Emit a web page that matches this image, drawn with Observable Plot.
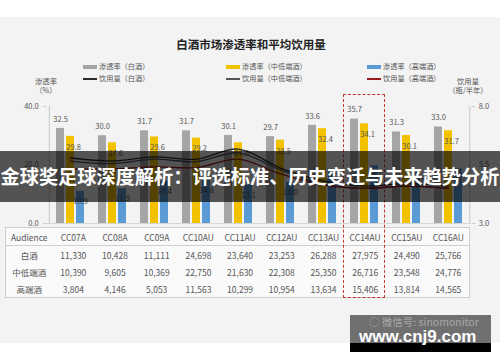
<!DOCTYPE html>
<html><head><meta charset="utf-8">
<script src="https://cdn.jsdelivr.net/npm/d3@7"></script>
<script src="https://cdn.jsdelivr.net/npm/@observablehq/plot@0.6"></script>
<style>
body{margin:0;background:#fff;font-family:"Noto Sans CJK SC","Noto Sans",sans-serif;}
#wrap{position:relative;width:500px;height:362px;overflow:hidden;}
#bg{position:absolute;left:0;top:17px;width:500px;height:326px;background:#f3f3f3;}
#chart{position:absolute;left:0;top:0;}
.abs{position:absolute;white-space:nowrap;}
#title{left:0;width:502px;top:36px;text-align:center;font-size:11.5px;font-weight:bold;color:#222;}
.leg{font-size:7.2px;color:#555;line-height:9px;}
.sw{position:absolute;}
.axt{font-size:7.3px;color:#555;text-align:center;line-height:9px;}
#tbl{position:absolute;left:5px;top:227px;width:465px;border-collapse:collapse;table-layout:fixed;background:#fafafa;border:1px solid #cfcfcf;font-size:8.5px;color:#555;}
#tbl td{text-align:center;height:17px;padding:0;}
#tbl tr:first-child td{border-bottom:1px solid #cfcfcf;}
#box{position:absolute;left:343px;top:94px;width:40px;height:202px;border:1.5px dashed #c0392b;}
#banner{position:absolute;left:0;top:151px;width:500px;height:51px;background:rgba(0,0,0,0.66);color:#fff;font-weight:bold;font-size:19.2px;line-height:51px;text-align:center;white-space:nowrap;overflow:visible;}
#wm1{position:absolute;left:350px;top:315px;width:141px;height:28px;background:#707070;}
#wm2{position:absolute;left:350px;top:343px;width:141px;height:9px;background:#000;}
#wmt1{position:absolute;left:369px;top:315px;font-size:10.5px;color:#a8a8a8;line-height:13px;white-space:nowrap;}
#wmt2{position:absolute;left:359px;top:327px;font-family:"Liberation Sans",Arial,sans-serif;font-weight:bold;font-size:17px;color:#fff;line-height:20px;}
</style></head><body>
<div id="wrap">
<div id="bg"></div>
<div id="chart"></div>
</div>
<script>
const categories = ["CC07A","CC08A","CC09A","CC10AU","CC11AU","CC12AU","CC13AU","CC14AU","CC15AU","CC16AU"];
const rateAll  = [32.5, 30.0, 31.7, 31.7, 30.1, 29.7, 33.6, 35.7, 31.3, 33.0];
const rateMid  = [29.8, 27.6, 29.6, 29.2, 27.6, 28.5, 32.4, 34.1, 30.1, 31.7];
const rateHigh = [10.9, 11.9, 14.4, 14.8, 13.1, 14.0, 17.4, 19.7, 17.7, 18.7];
const volAll  = [5.80, 5.67, 5.85, 5.75, 6.18, 5.37, 4.82, 4.60, 4.70, 4.60];
const volMid  = [5.67, 5.56, 5.75, 5.64, 6.02, 5.29, 4.69, 4.50, 4.60, 4.50];
const volHigh = [5.34, 5.33, 5.42, 5.39, 5.75, 5.12, 4.65, 4.50, 4.60, 4.50];
const audAll  = ["11,330","10,428","11,111","24,698","23,640","23,253","26,288","27,975","24,490","25,766"];
const audMid  = ["10,390","9,605","10,369","22,750","21,630","22,308","25,350","26,716","23,548","24,776"];
const audHigh = ["3,804","4,146","5,053","11,563","10,299","10,954","13,634","15,406","13,814","14,565"];
const leftTicks = [0, 20, 40];
const rightMin = 3.0, rightMax = 8.0;
const chartTitle = "白酒市场渗透率和平均饮用量";
const legendItems = [
  ["渗透率（白酒）","bar","#a5a5a5"],["渗透率（中低端酒）","bar","#f2c200"],["渗透率（高端酒）","bar","#5b9bd5"],
  ["饮用量（白酒）","line","#2b2b2b"],["饮用量（中低端酒）","line","#555555"],["饮用量（高端酒）","line","#9b1c1c"]
];
const rowNames = ["白酒","中低端酒","高端酒"];
const bannerText = "金球奖足球深度解析：评选标准、历史变迁与未来趋势分析";

const colGray = "#a5a5a5", colYellow = "#f2c200", colBlue = "#5b9bd5";
const rows = categories.map((c,i)=>({c, g:rateAll[i], m:rateMid[i], h:rateHigh[i]}));
const scaleR = (rightMax-rightMin)/40;
const toLeft = v => (v-rightMin)/scaleR;
const lineData = (arr) => categories.map((c,i)=>({c, v:arr[i]}));

const svg = Plot.plot({
  width:500, height:362,
  marginTop:106, marginBottom:139, marginLeft:46.25, marginRight:28.75,
  style:{background:"transparent", fontFamily:"'Noto Sans CJK SC','Noto Sans',sans-serif", fontSize:"7.5px", color:"#555"},
  x:{domain:categories, padding:0, axis:null},
  y:{domain:[0,40], axis:null},
  marks:[
    Plot.ruleX([categories[0]], {y1:0, y2:40, dx:-21.25, stroke:"#c8c8c8"}),
    Plot.ruleX([categories[categories.length-1]], {y1:0, y2:40, dx:21.25, stroke:"#c8c8c8"}),
    Plot.axisY({anchor:"left", ticks:leftTicks, tickFormat:d=>d.toFixed(1), tickSize:3, tickPadding:5, stroke:"#c8c8c8", fill:"#555"}),
    Plot.axisY({anchor:"right", ticks:leftTicks, tickFormat:d=>(rightMin+d*scaleR).toFixed(1), tickSize:3, tickPadding:4, stroke:"#c8c8c8", fill:"#555"}),
    Plot.barY(rows, {x:"c", y:"g", fill:colGray, insetLeft:7, insetRight:27}),
    Plot.barY(rows, {x:"c", y:"m", fill:colYellow, insetLeft:17, insetRight:17}),
    Plot.barY(rows, {x:"c", y:"h", fill:colBlue, insetLeft:27, insetRight:7}),
    Plot.ruleY([0], {stroke:"#d6d6d6"}),
    Plot.line(lineData(volAll), {x:"c", y:d=>toLeft(d.v), stroke:"#2b2b2b", strokeWidth:1.3, curve:"catmull-rom"}),
    Plot.line(lineData(volMid), {x:"c", y:d=>toLeft(d.v), stroke:"#4a4a6a", strokeWidth:1.3, curve:"catmull-rom"}),
    Plot.line(lineData(volHigh), {x:"c", y:d=>toLeft(d.v), stroke:"#9b1c1c", strokeWidth:1.3, curve:"catmull-rom"}),
    Plot.text(rows, {x:"c", y:"g", text:d=>d.g.toFixed(1), dx:-10, dy:-9, fill:"#555", fontSize:7.5}),
    Plot.text(rows, {x:"c", y:"m", text:d=>d.m.toFixed(1), dx:3, dy:11, fill:"#555", fontSize:7.5}),
    Plot.text(rows, {x:"c", y:"h", text:d=>d.h.toFixed(1), dx:10, dy:10, fill:"#555", fontSize:7.5})
  ]
});
document.getElementById("chart").appendChild(svg);

const wrap = document.getElementById("wrap");
function add(html){ const d=document.createElement("div"); d.innerHTML=html; while(d.firstChild) wrap.appendChild(d.firstChild); }

add(`<div class="abs" id="title">${chartTitle}</div>`);
const legX = [83, 226, 367], legY = [66.5, 79];
legendItems.forEach((it,i)=>{
  const col = i%3, row = Math.floor(i/3);
  const x = legX[col], y = legY[row];
  const sw = it[1]==="bar"
    ? `<div class="sw" style="left:${x}px;top:${y-2}px;width:14px;height:4px;background:${it[2]}"></div>`
    : `<div class="sw" style="left:${x}px;top:${y-0.7}px;width:14px;height:1.4px;background:${it[2]}"></div>`;
  add(sw + `<div class="abs leg" style="left:${x+16}px;top:${y-5}px">${it[0]}</div>`);
});
add(`<div class="abs axt" style="left:26px;top:77px;width:40px">渗透率<br>（%）</div>`);
add(`<div class="abs axt" style="left:443px;top:77px;width:50px">饮用量<br>（瓶/半年）</div>`);

let t = `<table id="tbl"><colgroup><col style="width:47px">${categories.map(()=>'<col>').join('')}</colgroup>`;
t += `<tr><td>Audience</td>${categories.map(c=>`<td>${c}</td>`).join('')}</tr>`;
[audAll, audMid, audHigh].forEach((arr,k)=>{
  t += `<tr><td>${rowNames[k]}</td>${arr.map(v=>`<td>${v}</td>`).join('')}</tr>`;
});
t += `</table>`;
add(t);
add(`<div id="box"></div>`);
add(`<div id="banner">${bannerText}</div>`);
add(`<div id="wm1"></div><div id="wm2"></div><div id="wmt1">◌ 微信号: sinomonitor</div><div id="wmt2">www.cnj9.com</div>`);
</script>
</body></html>
